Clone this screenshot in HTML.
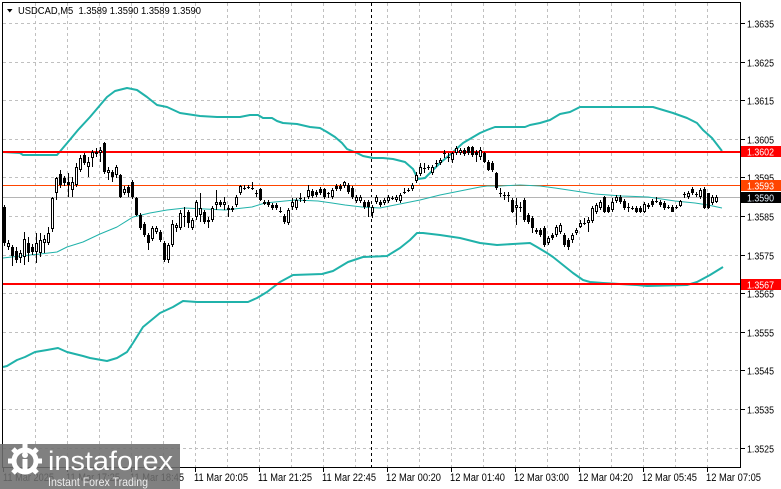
<!DOCTYPE html>
<html>
<head>
<meta charset="utf-8">
<style>
html,body{margin:0;padding:0;background:#fff;}
body{width:781px;height:489px;overflow:hidden;}
svg{display:block;font-family:"Liberation Sans",sans-serif;}
</style>
</head>
<body>
<svg width="781" height="489" viewBox="0 0 781 489" xmlns="http://www.w3.org/2000/svg">
<rect width="781" height="489" fill="#fff"/>
<!-- grid -->
<g stroke="#c0c0c0" stroke-width="1" stroke-dasharray="3,3" fill="none">
<path d="M35.5 3V467M67.5 3V467M99.5 3V467M131.5 3V467M163.5 3V467M195.5 3V467M227.5 3V467M259.5 3V467M291.5 3V467M323.5 3V467M355.5 3V467M387.5 3V467M419.5 3V467M451.5 3V467M483.5 3V467M515.5 3V467M547.5 3V467M579.5 3V467M611.5 3V467M643.5 3V467M675.5 3V467M707.5 3V467"/>
<path d="M3 23.5H740M3 62.5H740M3 100.5H740M3 139.5H740M3 177.5H740M3 216.5H740M3 255.5H740M3 293.5H740M3 332.5H740M3 370.5H740M3 409.5H740M3 448.5H740"/>
</g>
<!-- period separator -->
<path d="M371.5 3V467" stroke="#000" stroke-width="1" stroke-dasharray="3,3"/>
<!-- horizontal levels -->
<path d="M3 197.5H740" stroke="#b4b4b4" stroke-width="1"/>
<path d="M3 185.5H740" stroke="#ff4500" stroke-width="1"/>
<!-- bollinger bands -->
<g fill="none" stroke="#20b2aa" stroke-linejoin="round">
<polyline stroke-width="2" points="3,152 20,153 23,155 57,155 68,142 78,130 90,117 107,97 115,91 127,88 137,90 147,97 157,105 167,107 180,113 200,116 217,117 240,117 250,115 258,115 263,118 272,118 277,121 283,123 297,124 310,127 320,128 327,132 335,137 342,143 347,149 357,153 363,156 373,158 383,158 393,159 405,162 413,169 418,179 425,178 440,163 452,153 463,143 480,133 487,130 495,127 525,127 530,125 540,123 550,120 560,114 570,112 580,107 653,107 663,110 673,113 687,118 697,123 703,130 712,138 722,151"/>
<polyline stroke-width="2" points="3,367 7,366 17,360 25,357 35,352 47,350 58,348 67,352 83,356 90,358 107,361 117,358 127,352 133,343 143,327 160,313 173,307 183,301 197,302 248,302 257,298 267,292 280,282 293,275 322,274 333,271 348,262 363,257 387,256 400,248 410,240 417,233 423,233 440,235 460,238 480,243 497,245 513,244 530,243 537,247 547,253 553,257 563,265 573,273 583,280 590,282 603,283 637,285 647,286 687,285 697,282 710,275 723,267"/>
<polyline stroke-width="1" points="3,258 20,256 40,254 57,252 67,247 83,242 100,234 117,227 133,217 150,213 167,210 185,208 205,209 225,210 252,207 265,203 285,201 295,200 318,201 332,203 345,205 362,207 380,208 400,204 420,200 440,195 460,191 480,187 487,186 500,186 520,185 540,186 555,188 575,191 595,194 622,196 648,197 675,201 695,203 708,205 722,208"/>
</g>
<!-- red levels -->
<path d="M3 152H740M3 284H740" stroke="#ff0000" stroke-width="2"/>
<!-- candles: wicks -->
<path stroke="#000" stroke-width="1" fill="none" d="M4.5 205V246M8.5 240V250M12.5 245V266M16.5 247V263M20.5 250V263M24.5 232V265M28.5 237V262M32.5 244V255M36.5 233V263M40.5 233V257M44.5 235V253M48.5 227V245M52.5 197V232M56.5 177V200M60.5 170V188M64.5 176V186M68.5 173V197M72.5 177V197M76.5 163V187M80.5 155V172M84.5 153V165M88.5 157V177M92.5 150V167M96.5 148V157M100.5 147V162M104.5 142V174M108.5 167V180M112.5 170V182M116.5 165V178M120.5 174V198M124.5 186V195M128.5 185V197M132.5 180V199M136.5 197V216M140.5 213V230M144.5 222V237M148.5 233V250M152.5 226V241M156.5 226V234M160.5 230V242M164.5 241V262M168.5 243V263M172.5 220V247M176.5 223V232M180.5 210V230M184.5 207V227M188.5 210V228M192.5 218V230M196.5 200V220M200.5 193V222M204.5 210V224M208.5 217V228M212.5 206V222M216.5 190V210M220.5 200V207M224.5 197V210M228.5 205V217M232.5 206V212M236.5 195V207M240.5 185V195M244.5 185V190M248.5 185V189M252.5 182V190M256.5 190V197M260.5 188V201M264.5 200V205M268.5 200V207M272.5 203V210M276.5 203V210M280.5 207V213M284.5 214V224M288.5 208V225M292.5 198V210M296.5 198V210M300.5 193V202M304.5 197V203M308.5 185V199M312.5 189V198M316.5 190V197M320.5 187V195M324.5 188V199M328.5 192V198M332.5 188V199M336.5 184V191M340.5 184V191M344.5 181V188M348.5 183V194M352.5 186V199M356.5 195V203M360.5 195V203M364.5 200V209M368.5 200V217M372.5 205V218M376.5 195V204M380.5 200V207M384.5 198V205M388.5 195V203M392.5 196V200M396.5 195V202M400.5 193V203M404.5 188V194M408.5 188V192M412.5 183V191M416.5 172V183M420.5 163V176M424.5 163V173M428.5 165V170M432.5 165V175M436.5 160V167M440.5 158V165M444.5 150V158M448.5 153V162M452.5 152V163M456.5 146V155M460.5 148V155M464.5 148V156M468.5 146V155M472.5 146V157M476.5 150V162M480.5 147V160M484.5 152V163M488.5 160V171M492.5 161V172M496.5 172V190M500.5 188V197M504.5 192V200M508.5 192V202M512.5 198V213M516.5 198V225M520.5 202V212M524.5 198V222M528.5 213V224M532.5 216V233M536.5 228V234M540.5 228V237M544.5 226V247M548.5 236V245M552.5 233V240M556.5 225V237M560.5 223V234M564.5 233V247M568.5 238V250M572.5 233V243M576.5 228V235M580.5 220V228M584.5 218V225M588.5 217V232M592.5 206V223M596.5 203V214M600.5 200V210M604.5 196V213M608.5 205V213M612.5 198V212M616.5 195V203M620.5 195V204M624.5 199V210M628.5 203V212M632.5 206V210M636.5 206V213M640.5 206V213M644.5 202V213M648.5 203V209M652.5 199V207M656.5 197V203M660.5 200V207M664.5 201V210M668.5 205V209M672.5 205V212M676.5 205V209M680.5 200V207M684.5 192V198M688.5 191V199M692.5 187V195M696.5 192V197M700.5 188V199M704.5 187V209M708.5 193V209M712.5 195V205M716.5 195V203"/>
<!-- white bodies -->
<path fill="#fff" stroke="#000" stroke-width="1" d="M7.5 243.5h2v3h-2zM19.5 253.5h2v4h-2zM23.5 239.5h2v17h-2zM35.5 243.5h2v8h-2zM39.5 240.5h2v12h-2zM43.5 239.5h2v3h-2zM47.5 233.5h2v9h-2zM51.5 198.5h2v30h-2zM55.5 178.5h2v14h-2zM71.5 182.5h2v7h-2zM75.5 167.5h2v17h-2zM79.5 158.5h2v11h-2zM87.5 162.5h2v4h-2zM91.5 152.5h2v5h-2zM95.5 152.5h2v1h-2zM99.5 150.5h2v2h-2zM107.5 170.5h2v2h-2zM115.5 167.5h2v7h-2zM123.5 189.5h2v3h-2zM151.5 228.5h2v10h-2zM155.5 228.5h2v3h-2zM167.5 245.5h2v14h-2zM171.5 224.5h2v20h-2zM175.5 225.5h2v2h-2zM179.5 213.5h2v14h-2zM191.5 220.5h2v7h-2zM195.5 202.5h2v14h-2zM199.5 208.5h2v6h-2zM211.5 208.5h2v11h-2zM215.5 202.5h2v2h-2zM223.5 202.5h2v2h-2zM231.5 208.5h2v1h-2zM235.5 197.5h2v7h-2zM239.5 186.5h2v6h-2zM263.5 202.5h2v1h-2zM287.5 210.5h2v12h-2zM291.5 202.5h2v4h-2zM295.5 200.5h2v7h-2zM307.5 190.5h2v6h-2zM331.5 190.5h2v6h-2zM343.5 182.5h2v3h-2zM355.5 197.5h2v3h-2zM359.5 197.5h2v3h-2zM371.5 207.5h2v5h-2zM375.5 197.5h2v4h-2zM383.5 200.5h2v2h-2zM387.5 197.5h2v3h-2zM395.5 197.5h2v2h-2zM399.5 195.5h2v5h-2zM411.5 185.5h2v3h-2zM415.5 175.5h2v5h-2zM419.5 167.5h2v6h-2zM431.5 167.5h2v5h-2zM439.5 160.5h2v2h-2zM451.5 153.5h2v6h-2zM455.5 148.5h2v4h-2zM459.5 150.5h2v2h-2zM479.5 150.5h2v6h-2zM515.5 205.5h2v2h-2zM535.5 230.5h2v1h-2zM547.5 238.5h2v4h-2zM555.5 227.5h2v7h-2zM559.5 225.5h2v6h-2zM571.5 235.5h2v4h-2zM575.5 230.5h2v2h-2zM579.5 223.5h2v3h-2zM587.5 220.5h2v2h-2zM591.5 208.5h2v12h-2zM595.5 205.5h2v6h-2zM599.5 202.5h2v5h-2zM611.5 202.5h2v7h-2zM615.5 197.5h2v3h-2zM643.5 204.5h2v7h-2zM647.5 205.5h2v1h-2zM679.5 201.5h2v4h-2zM687.5 193.5h2v3h-2zM699.5 190.5h2v6h-2zM711.5 197.5h2v5h-2zM715.5 197.5h2v4h-2z"/>
<!-- black bodies -->
<path fill="#000" d="M3 207h3v36h-3zM11 247h3v9h-3zM15 251h3v9h-3zM27 243h3v10h-3zM31 247h3v5h-3zM59 174h3v11h-3zM63 178h3v5h-3zM67 182h3v3h-3zM83 155h3v8h-3zM103 143h3v29h-3zM111 172h3v5h-3zM119 175h3v22h-3zM127 187h3v6h-3zM131 182h3v15h-3zM135 198h3v17h-3zM139 215h3v13h-3zM143 224h3v11h-3zM147 235h3v8h-3zM159 232h3v8h-3zM163 243h3v17h-3zM187 212h3v11h-3zM203 212h3v10h-3zM207 220h3v2h-3zM219 202h3v3h-3zM227 208h3v2h-3zM259 189h3v11h-3zM267 202h3v3h-3zM271 205h3v3h-3zM275 205h3v3h-3zM283 216h3v6h-3zM311 191h3v5h-3zM315 192h3v3h-3zM319 189h3v4h-3zM323 189h3v8h-3zM335 186h3v3h-3zM339 186h3v3h-3zM347 185h3v7h-3zM351 188h3v9h-3zM363 202h3v5h-3zM367 202h3v5h-3zM379 202h3v3h-3zM463 150h3v4h-3zM467 147h3v6h-3zM471 147h3v8h-3zM475 152h3v3h-3zM483 153h3v9h-3zM487 162h3v8h-3zM491 163h3v7h-3zM495 173h3v15h-3zM511 200h3v12h-3zM523 200h3v20h-3zM527 215h3v7h-3zM531 218h3v10h-3zM539 230h3v5h-3zM543 228h3v17h-3zM551 235h3v3h-3zM563 235h3v10h-3zM567 240h3v7h-3zM603 197h3v15h-3zM607 207h3v5h-3zM619 197h3v5h-3zM623 201h3v7h-3zM635 208h3v4h-3zM639 208h3v4h-3zM651 201h3v4h-3zM659 202h3v3h-3zM663 203h3v5h-3zM671 207h3v5h-3zM691 189h3v4h-3zM703 189h3v19h-3zM707 193h3v15h-3z"/>
<!-- doji -->
<path stroke="#000" stroke-width="1" fill="none" d="M183 216.5h3M243 188.5h3M247 187.5h3M251 188.5h3M255 193.5h3M279 211.5h3M299 198.5h3M303 200.5h3M327 193.5h3M391 198.5h3M403 192.5h3M407 190.5h3M423 168.5h3M427 167.5h3M435 163.5h3M443 153.5h3M447 157.5h3M499 193.5h3M503 195.5h3M507 195.5h3M519 207.5h3M583 223.5h3M627 207.5h3M631 208.5h3M655 201.5h3M667 207.5h3M675 207.5h3M683 194.5h3M695 194.5h3"/>
<!-- frame -->
<path d="M2.5 2.5H740.5V467.5H2.5Z" fill="none" stroke="#000" stroke-width="1"/>
<!-- axis ticks -->
<path stroke="#000" stroke-width="1" d="M741 23.5h4M741 62.5h4M741 100.5h4M741 139.5h4M741 177.5h4M741 216.5h4M741 255.5h4M741 293.5h4M741 332.5h4M741 370.5h4M741 409.5h4M741 448.5h4M3.5 468v4M67.5 468v4M131.5 468v4M195.5 468v4M259.5 468v4M323.5 468v4M387.5 468v4M451.5 468v4M515.5 468v4M579.5 468v4M643.5 468v4M707.5 468v4"/>
<!-- price labels -->
<g font-size="10" fill="#000">
<text x="747" y="27.5" textLength="27" lengthAdjust="spacingAndGlyphs">1.3635</text>
<text x="747" y="66.5" textLength="27" lengthAdjust="spacingAndGlyphs">1.3625</text>
<text x="747" y="104.5" textLength="27" lengthAdjust="spacingAndGlyphs">1.3615</text>
<text x="747" y="143.5" textLength="27" lengthAdjust="spacingAndGlyphs">1.3605</text>
<text x="747" y="181.5" textLength="27" lengthAdjust="spacingAndGlyphs">1.3595</text>
<text x="747" y="220.5" textLength="27" lengthAdjust="spacingAndGlyphs">1.3585</text>
<text x="747" y="259.5" textLength="27" lengthAdjust="spacingAndGlyphs">1.3575</text>
<text x="747" y="297.5" textLength="27" lengthAdjust="spacingAndGlyphs">1.3565</text>
<text x="747" y="336.5" textLength="27" lengthAdjust="spacingAndGlyphs">1.3555</text>
<text x="747" y="374.5" textLength="27" lengthAdjust="spacingAndGlyphs">1.3545</text>
<text x="747" y="413.5" textLength="27" lengthAdjust="spacingAndGlyphs">1.3535</text>
<text x="747" y="452.5" textLength="27" lengthAdjust="spacingAndGlyphs">1.3525</text>
</g>
<!-- boxed labels -->
<rect x="741" y="146" width="40" height="11" fill="#ff0000"/>
<rect x="741" y="180" width="40" height="11" fill="#ff4500"/>
<rect x="741" y="192" width="40" height="11" fill="#000"/>
<rect x="741" y="279" width="40" height="11" fill="#ff0000"/>
<g font-size="10" fill="#fff">
<text x="747" y="155.5" textLength="27" lengthAdjust="spacingAndGlyphs">1.3602</text>
<text x="747" y="189.5" textLength="27" lengthAdjust="spacingAndGlyphs">1.3593</text>
<text x="747" y="201.5" textLength="27" lengthAdjust="spacingAndGlyphs" fill="#e8f4ff">1.3590</text>
<text x="747" y="288.5" textLength="27" lengthAdjust="spacingAndGlyphs">1.3567</text>
</g>
<!-- time labels -->
<g font-size="11" fill="#000">
<text x="3" y="481" textLength="51" lengthAdjust="spacingAndGlyphs">11 Mar 2025</text>
<text x="66" y="481" textLength="54" lengthAdjust="spacingAndGlyphs">11 Mar 17:25</text>
<text x="130" y="481" textLength="54" lengthAdjust="spacingAndGlyphs">11 Mar 18:45</text>
<text x="194" y="481" textLength="54" lengthAdjust="spacingAndGlyphs">11 Mar 20:05</text>
<text x="258" y="481" textLength="54" lengthAdjust="spacingAndGlyphs">11 Mar 21:25</text>
<text x="322" y="481" textLength="54" lengthAdjust="spacingAndGlyphs">11 Mar 22:45</text>
<text x="386" y="481" textLength="55" lengthAdjust="spacingAndGlyphs">12 Mar 00:20</text>
<text x="450" y="481" textLength="55" lengthAdjust="spacingAndGlyphs">12 Mar 01:40</text>
<text x="514" y="481" textLength="55" lengthAdjust="spacingAndGlyphs">12 Mar 03:00</text>
<text x="578" y="481" textLength="55" lengthAdjust="spacingAndGlyphs">12 Mar 04:20</text>
<text x="642" y="481" textLength="55" lengthAdjust="spacingAndGlyphs">12 Mar 05:45</text>
<text x="706" y="481" textLength="55" lengthAdjust="spacingAndGlyphs">12 Mar 07:05</text>
</g>
<!-- header -->
<polygon points="7,9 12.5,9 9.75,12.5" fill="#000"/>
<text x="18" y="14" font-size="10" fill="#000" textLength="183" lengthAdjust="spacingAndGlyphs" style="white-space:pre">USDCAD,M5  1.3589 1.3590 1.3589 1.3590</text>
<!-- watermark -->
<rect x="0" y="444" width="180" height="45" fill="rgb(110,110,110)" fill-opacity="0.88"/>
<g fill="#fff">
<circle cx="25" cy="461" r="11" fill="none" stroke="#fff" stroke-width="5"/>
<g transform="translate(25 461)">
<rect x="-2.5" y="-17" width="5" height="6"/>
<rect x="-2.5" y="-17" width="5" height="6" transform="rotate(45)"/>
<rect x="-2.5" y="-17" width="5" height="6" transform="rotate(90)"/>
<rect x="-2.5" y="-17" width="5" height="6" transform="rotate(135)"/>
<rect x="-2.5" y="-17" width="5" height="6" transform="rotate(225)"/>
<rect x="-2.5" y="-17" width="5" height="6" transform="rotate(270)"/>
<rect x="-2.5" y="-17" width="5" height="6" transform="rotate(315)"/>
</g>
<circle cx="25" cy="455" r="3"/>
<rect x="22.5" y="459" width="5" height="14"/>
<text x="48" y="470" font-size="27" textLength="125" lengthAdjust="spacingAndGlyphs">instaforex</text>
<text x="48" y="486" font-size="12" fill="#eeeeee" textLength="100" lengthAdjust="spacingAndGlyphs">Instant Forex Trading</text>
</g>
</svg>
</body>
</html>
